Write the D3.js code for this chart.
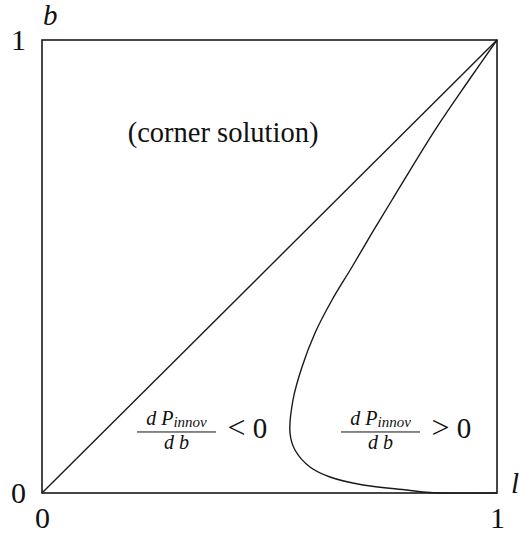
<!DOCTYPE html>
<html>
<head>
<meta charset="utf-8">
<script src="https://cdnjs.cloudflare.com/ajax/libs/d3/7.8.5/d3.min.js"></script>
<style>
  body { margin: 0; background: #fff; }
  svg text { font-family: "Liberation Serif", "Times New Roman", serif; fill: #111; }
</style>
</head>
<body>
<div id="chart"></div>
<script>
var width = 520, height = 537;

// axis ticks
var xTicks = [0, 1];
var yTicks = [0, 1];

// 45 degree line
var diagL = [0, 1];
var diagB = [0, 1];

// boundary dP/db = 0
var curveL = [1.000, 0.9385, 0.8637, 0.7692, 0.7253, 0.6813, 0.6374, 0.6000, 0.5714, 0.5516, 0.5451, 0.5560, 0.5890, 0.6330, 0.7055, 0.8022, 0.8527, 1.000];
var curveB = [1.000, 0.9117, 0.8013, 0.6468, 0.5740, 0.4989, 0.4260, 0.3532, 0.2781, 0.2053, 0.1325, 0.0949, 0.0574, 0.0353, 0.0177, 0.0066, 0.0011, 0.000];

var x = d3.scaleLinear().domain([0, 1]).range([42, 497]);
var y = d3.scaleLinear().domain([0, 1]).range([493, 40]);

var svg = d3.select("#chart").append("svg")
    .attr("width", width)
    .attr("height", height);

//frame
svg.append("rect")
    .attr("x", x(0))
    .attr("y", y(1))
    .attr("width", x(1) - x(0))
    .attr("height", y(0) - y(1))
    .attr("fill", "none")
    .attr("stroke", "#1a1a1a")
    .attr("stroke-width", 1.6);

//axes, labels only
var xAxis = svg.append("g")
    .attr("transform", "translate(0," + y(0) + ")")
    .call(d3.axisBottom(x).tickValues(xTicks).tickFormat(d3.format("d")).tickSize(0).tickPadding(14));
var yAxis = svg.append("g")
    .attr("transform", "translate(" + x(0) + ",0)")
    .call(d3.axisLeft(y).tickValues(yTicks).tickFormat(d3.format("d")).tickSize(0).tickPadding(16));
[xAxis, yAxis].forEach(function (g) {
  g.select(".domain").remove();
  g.selectAll("text")
      .attr("font-family", "Liberation Serif, serif")
      .attr("font-size", 30)
      .attr("fill", "#111");
});

var line = d3.line()
    .x(function (d) { return x(d[0]); })
    .y(function (d) { return y(d[1]); });

svg.append("path")
    .datum(d3.zip(diagL, diagB))
    .attr("d", line)
    .attr("fill", "none")
    .attr("stroke", "#1a1a1a")
    .attr("stroke-width", 1.4);

svg.append("path")
    .datum(d3.zip(curveL, curveB))
    .attr("d", line.curve(d3.curveCatmullRom.alpha(0.5)))
    .attr("fill", "none")
    .attr("stroke", "#1a1a1a")
    .attr("stroke-width", 1.4);

// axis names
svg.append("text")
    .attr("x", x(0) + 1)
    .attr("y", 25)
    .attr("font-size", 29)
    .attr("font-style", "italic")
    .text("b");
svg.append("text")
    .attr("x", x(1) + 14)
    .attr("y", y(0))
    .attr("font-size", 29)
    .attr("font-style", "italic")
    .text("l");

svg.append("text")
    .attr("x", x(0.398))
    .attr("y", y(0.775))
    .attr("text-anchor", "middle")
    .attr("font-size", 28.5)
    .text("(corner solution)");

// dP_innov/db fractions
function fraction(cx, cy, rel) {
  var g = svg.append("g").attr("transform", "translate(" + cx + "," + cy + ")");
  var num = g.append("text")
      .attr("y", -7)
      .attr("text-anchor", "middle")
      .attr("font-style", "italic")
      .attr("font-size", 20);
  num.append("tspan").text("d ");
  num.append("tspan").text("P");
  num.append("tspan").attr("font-size", 15).attr("dy", 2).text("innov");
  g.append("text")
      .attr("y", 17)
      .attr("text-anchor", "middle")
      .attr("font-style", "italic")
      .attr("font-size", 20)
      .text("d b");
  g.append("line")
      .attr("x1", -39.5).attr("x2", 39.5)
      .attr("y1", 0).attr("y2", 0)
      .attr("stroke", "#111")
      .attr("stroke-width", 1);
  var r = g.append("text")
      .attr("x", 51)
      .attr("y", 6)
      .attr("font-size", 29);
  r.append("tspan").attr("font-size", 32).text(rel);
  r.append("tspan").text(" 0");
}
fraction(x(0.2956), y(0.1347), "<");
fraction(x(0.744), y(0.1347), ">");
</script>
</body>
</html>
